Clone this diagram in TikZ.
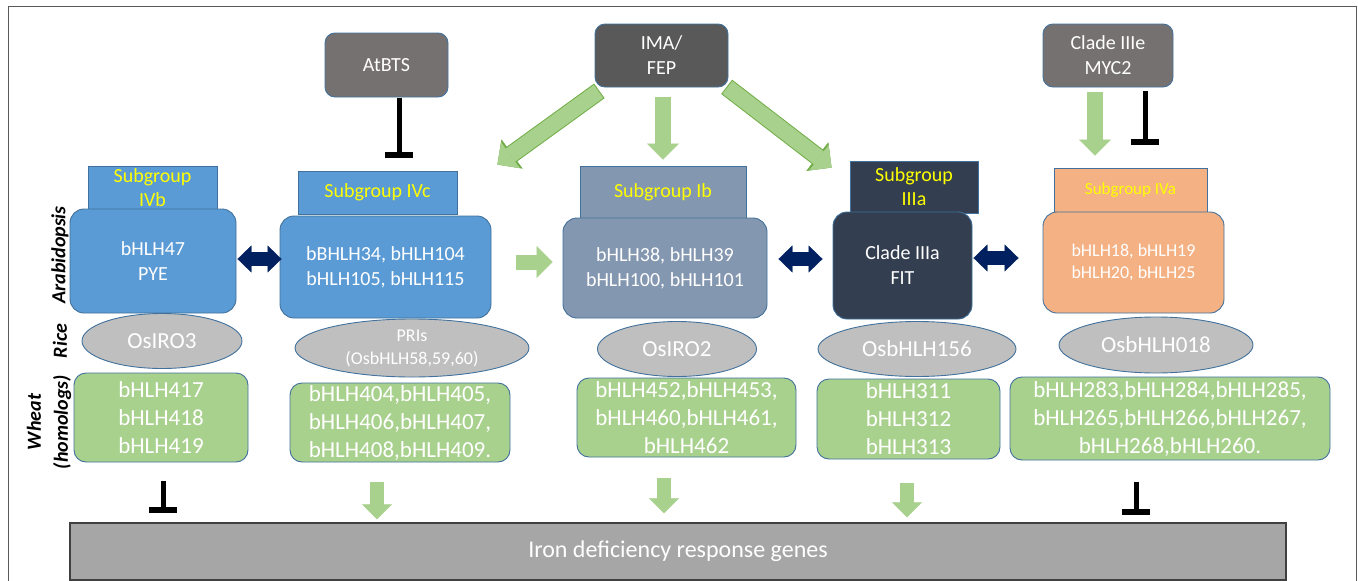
\documentclass[tikz,border=0pt]{standalone}
\usepackage{fontspec}
\setmainfont{Carlito}
\usepackage[usenames,dvipsnames]{xcolor}
\usepackage{tikz}
\usetikzlibrary{shapes,arrows.meta}

\begin{document}
\begin{tikzpicture}[x=1pt,y=-1pt,
  box/.style={draw=boxBorder, line width=0.9pt, rounded corners=14pt, text=white, align=center, inner sep=0pt, font=\fontsize{20}{25}\selectfont},
  topbox/.style={box, rounded corners=10pt},
  subbox/.style={draw=boxBorder, line width=0.9pt, text=subText, align=center, inner sep=0pt, font=\fontsize{20}{24}\selectfont},
  rice/.style={ellipse, draw=boxBorder, line width=0.9pt, fill=riceGray, text=white, align=center, inner sep=0pt, font=\fontsize{23}{27}\selectfont},
  wheat/.style={box, rounded corners=12pt, fill=wheatGreen, font=\fontsize{23}{28}\selectfont},
  side/.style={rotate=90, align=center, font=\fontsize{20}{27}\selectfont\bfseries\itshape},
  fat/.style={draw=arrowGreen, line width=16pt, -{Triangle[width=32pt,length=16pt,line width=0.4pt]}},
  fatout/.style={preaction={draw=arrowEdge, line width=18pt, shorten <=-1pt, -{Triangle[width=36pt,length=18pt,line width=0.4pt]}}, fat},
  fatdown/.style={draw=arrowGreen, line width=14pt, -{Triangle[width=30pt,length=15pt,line width=0.4pt]}},
  dbl/.style={draw=dblNavy, line width=14pt, {Triangle[width=27pt,length=14pt,line width=0.4pt]}-{Triangle[width=27pt,length=14pt,line width=0.4pt]}},
  inhibit/.style={draw=black, line width=5pt, -{Bar[width=28pt,line width=6pt]}}]
\definecolor{boxBorder}{RGB}{65,113,156}
\definecolor{ivBlue}{RGB}{91,155,213}
\definecolor{ibGray}{RGB}{132,151,176}
\definecolor{iiiaDark}{RGB}{51,63,80}
\definecolor{ivaOrange}{RGB}{244,177,131}
\definecolor{atbtsGray}{RGB}{118,113,113}
\definecolor{imaGray}{RGB}{89,89,89}
\definecolor{riceGray}{RGB}{191,191,191}
\definecolor{wheatGreen}{RGB}{169,209,142}
\definecolor{arrowGreen}{RGB}{169,209,142}
\definecolor{arrowEdge}{RGB}{112,173,71}
\definecolor{dblNavy}{RGB}{0,32,96}
\definecolor{subText}{RGB}{255,255,0}
\definecolor{genesGray}{RGB}{166,166,166}
\definecolor{genesBorder}{RGB}{64,64,64}
\definecolor{frameGray}{RGB}{89,89,89}
\useasboundingbox (0,0) rectangle (1358,581);
\draw[frameGray, line width=1pt] (8,581) -- (8,6) -- (1356,6) -- (1356,581);

% regulators on top
\node[topbox, fill=atbtsGray, minimum width=123, minimum height=64] (atbts) at (386.5,65) {AtBTS};
\node[topbox, fill=imaGray, minimum width=133, minimum height=63] (ima) at (661.5,55.5) {IMA/\\FEP};
\node[topbox, fill=atbtsGray, minimum width=130, minimum height=63] (myc2) at (1108,55.5) {Clade IIIe\\MYC2};

% subgroup labels
\node[subbox, fill=ivBlue, minimum width=129, minimum height=43] (ivbsub) at (152.5,187.5) {Subgroup\\IVb};
\node[subbox, fill=ivBlue, minimum width=159, minimum height=43] (ivcsub) at (377.5,192.5) {Subgroup IVc};
\node[subbox, fill=ibGray, minimum width=166, minimum height=52] (ibsub) at (663,192) {Subgroup Ib};
\node[subbox, fill=iiiaDark, minimum width=128, minimum height=52] (iiiasub) at (914,187) {Subgroup\\IIIa};
\node[subbox, fill=ivaOrange, minimum width=153, minimum height=44, font=\fontsize{17}{20}\selectfont] (ivasub) at (1130.5,190) {Subgroup IVa};

% Arabidopsis
\node[box, fill=ivBlue, minimum width=166, minimum height=104] (ivb) at (153,261) {bHLH47\\PYE};
\node[box, fill=ivBlue, minimum width=211, minimum height=102] (ivc) at (385.5,267) {bBHLH34, bHLH104\\bHLH105, bHLH115};
\node[box, fill=ibGray, minimum width=204, minimum height=100] (ib) at (665,268) {bHLH38, bHLH39\\bHLH100, bHLH101};
\node[box, fill=iiiaDark, minimum width=139, minimum height=107] (iiia) at (902.5,265.5) {Clade IIIa\\FIT};
\node[box, fill=ivaOrange, minimum width=181, minimum height=101, font=\fontsize{18}{22}\selectfont] (iva) at (1133.5,262.5) {bHLH18, bHLH19\\bHLH20, bHLH25};

% rice
\node[rice, minimum width=160, minimum height=55] (iro3) at (162,341) {OsIRO3};
\node[rice, minimum width=234, minimum height=58, font=\fontsize{18}{23}\selectfont] (pris) at (412,348) {PRIs\\(OsbHLH58,59,60)};
\node[rice, minimum width=159, minimum height=55] (iro2) at (677,349) {OsIRO2};
\node[rice, minimum width=198, minimum height=55] (os156) at (917,349) {OsbHLH156};
\node[rice, minimum width=194, minimum height=56] (os018) at (1156,345) {OsbHLH018};

% wheat
\node[wheat, minimum width=174, minimum height=89] (w1) at (161,417.5) {bHLH417\\bHLH418\\bHLH419};
\node[wheat, minimum width=220, minimum height=79] (w2) at (400,422.5) {bHLH404,bHLH405,\\bHLH406,bHLH407,\\bHLH408,bHLH409.};
\node[wheat, minimum width=219, minimum height=79] (w3) at (686.5,417.5) {bHLH452,bHLH453,\\bHLH460,bHLH461,\\bHLH462};
\node[wheat, minimum width=183, minimum height=80] (w4) at (908.5,419) {bHLH311\\bHLH312\\bHLH313};
\node[wheat, minimum width=320, minimum height=83] (w5) at (1170,418.5) {bHLH283,bHLH284,bHLH285,\\bHLH265,bHLH266,bHLH267,\\bHLH268,bHLH260.};

\node[draw=genesBorder, line width=1.2pt, fill=genesGray, minimum width=1216, minimum height=57, inner sep=0pt, text=white, font=\fontsize{24}{28}\selectfont] (genes) at (678,551.5) {Iron deficiency response genes};

% row labels
\node[side] (arab) at (60,255) {Arabidopsis};
\node[side] (ricelab) at (60,341) {Rice};
\node[side] (wheatlab) at (49,422) {Wheat\\(homologs)};

% connectors
\draw[inhibit, shorten <=1, shorten >=13] ([xshift=12.5pt]atbts.south) -- ([xshift=12.5pt]atbts.south |- ivcsub.north);
\draw[fatout] ([shift={(4,4)}]ima.south west) -- ([shift={(40,-6)}]ivcsub.north east);
\draw[fat, shorten <=10, shorten >=6] ([xshift=1.5pt]ima.south) -- ([xshift=1.5pt]ima.south |- ibsub.north);
\draw[fatout] ([shift={(-1,0)}]ima.south east) -- ([shift={(-18,7)}]iiiasub.north west);
\draw[fat, shorten <=5, shorten >=12] ([xshift=-13pt]myc2.south) -- ([xshift=-13pt]myc2.south |- ivasub.north);
\draw[inhibit, shorten <=4, shorten >=23] ([xshift=37pt]myc2.south) -- ([xshift=37pt]myc2.south |- ivasub.north);

\draw[dbl, shorten <=1, shorten >=-2] ([yshift=2pt]ivb.east) -- ([yshift=2pt]ivb.east -| ivc.west);
\draw[fat, line width=15pt, shorten <=25, shorten >=10] ([yshift=5pt]ivc.east) -- ([yshift=5pt]ivc.east -| ib.west);
\draw[dbl, shorten <=11, shorten >=10] ([yshift=9pt]ib.east) -- ([yshift=9pt]ib.east -| iiia.west);
\draw[dbl, shorten <=1, shorten >=24] ([yshift=7.5pt]iiia.east) -- ([yshift=7.5pt]iiia.east -| iva.west);

\draw[inhibit, shorten <=19, shorten >=9] ([xshift=2pt]w1.south) -- ([xshift=2pt]w1.south |- genes.north);
\foreach \w/\dx/\s/\e in {w2/-23/20/3, w3/-22.5/21/9, w4/-1.5/24/5}
  \draw[fatdown, shorten <=\s, shorten >=\e] ([xshift=\dx]\w.south) -- ([xshift=\dx]\w.south |- genes.north);
\draw[inhibit, shorten <=22, shorten >=7] ([xshift=-34pt]w5.south) -- ([xshift=-34pt]w5.south |- genes.north);
\end{tikzpicture}
\end{document}
